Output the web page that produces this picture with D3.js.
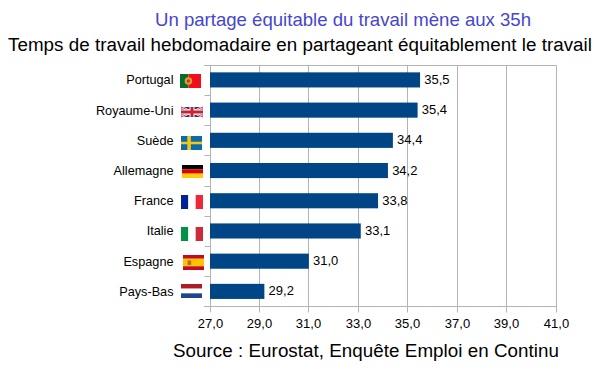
<!DOCTYPE html>
<html>
<head>
<meta charset="utf-8">
<script src="https://cdn.jsdelivr.net/npm/d3@7"></script>
<style>
  body { margin: 0; background: #fff; }
  text { font-family: "Liberation Sans", Arial, sans-serif; }
</style>
</head>
<body>
<svg id="chart" width="608" height="381"></svg>
<script>
let countries = ['Portugal', 'Royaume-Uni', 'Suède', 'Allemagne', 'France', 'Italie', 'Espagne', 'Pays-Bas'];
let hours = [35.5, 35.4, 34.4, 34.2, 33.8, 33.1, 31.0, 29.2];
let tickValues = [27, 29, 31, 33, 35, 37, 39, 41];

let titleText = 'Un partage équitable du travail mène aux 35h';
let subtitleText = 'Temps de travail hebdomadaire en partageant équitablement le travail';
let sourceText = 'Source : Eurostat, Enquête Emploi en Continu';

let svg = d3.select('#chart');
let margin = { left: 210, top: 65.5 };
let chartWidth = 346;
let chartHeight = 241;
let frFormat = function(d) { return d.toFixed(1).replace('.', ','); };

let chartGroup = svg.append('g')
  .attr('transform', 'translate(' + margin.left + ',' + margin.top + ')');

let xScale = d3.scaleLinear().domain([27, 41]).range([0, chartWidth]);
let yScale = d3.scaleBand().domain(countries).range([-0.7, chartHeight]).paddingInner(0.5).paddingOuter(0.25);

// keeps the 1px lines on whole pixels
function crispX(d) {
  return Math.floor(xScale(d)) + 0.5;
}

// horizontal line at the top of the plot
chartGroup.append('line')
  .attr('x1', -6).attr('x2', chartWidth + 0.5)
  .attr('y1', 0).attr('y2', 0)
  .attr('stroke', '#b3b3b3');

chartGroup.selectAll('.grid').data(tickValues.slice(1)).enter().append('line')
  .attr('class', 'grid')
  .attr('x1', crispX)
  .attr('x2', crispX)
  .attr('y1', 0)
  .attr('y2', chartHeight)
  .attr('stroke', '#b3b3b3');

let xAxis = d3.axisBottom(xScale).tickValues(tickValues).tickFormat(frFormat).tickSize(6).tickPadding(6);
let xAxisGroup = chartGroup.append('g')
  .attr('class', 'axis axis--x')
  .attr('transform', 'translate(0,' + chartHeight + ')')
  .call(xAxis);
xAxisGroup.selectAll('.tick').attr('transform', function(d) {
  return 'translate(' + crispX(d) + ',0)';
});

// ticks sit between the categories, so labels are placed apart from them
let yTicks = d3.range(countries.length + 1).map(function(i) { return Math.round(i * chartHeight / countries.length); });
let yAxis = d3.axisLeft(d3.scaleIdentity()).tickValues(yTicks).tickSize(6).tickFormat('').offset(0);
let yAxisGroup = chartGroup.append('g')
  .attr('class', 'axis axis--y')
  .attr('transform', 'translate(0.5,0)')
  .call(yAxis);

chartGroup.selectAll('.axis path, .axis line').attr('stroke', '#b3b3b3');
xAxisGroup.select('.domain').attr('d', 'M-6,0H' + (chartWidth + 0.5));
yAxisGroup.select('.domain').attr('d', 'M0,0V' + chartHeight);
xAxisGroup.selectAll('text')
  .attr('fill', '#000')
  .attr('font-size', 13);

chartGroup.selectAll('.bar').data(hours).enter().append('rect')
  .attr('class', 'bar')
  .attr('x', 0)
  .attr('y', function(d, i) { return yScale(countries[i]); })
  .attr('width', function(d) { return xScale(d); })
  .attr('height', yScale.bandwidth())
  .attr('fill', '#004586');

chartGroup.selectAll('.value').data(hours).enter().append('text')
  .attr('class', 'value')
  .attr('x', function(d) { return xScale(d) + 4.2; })
  .attr('y', function(d, i) { return yScale(countries[i]) + yScale.bandwidth() / 2 - 0.5; })
  .attr('dy', '0.35em')
  .attr('font-size', 13)
  .attr('fill', '#000')
  .text(frFormat);

chartGroup.selectAll('.country').data(countries).enter().append('text')
  .attr('class', 'country')
  .attr('x', -36.5)
  .attr('y', function(d) { return yScale(d) + yScale.bandwidth() / 2; })
  .attr('dy', '0.35em')
  .attr('text-anchor', 'end')
  .attr('font-size', 12.7)
  .attr('fill', '#000')
  .text(function(d) { return d; });

// flags, stripes given as fractions of the flag box
function stripes(g, w, h, colors, vertical, weights) {
  let total = d3.sum(weights);
  let pos = 0;
  colors.forEach(function(color, i) {
    let size = weights[i] / total;
    g.append('rect')
      .attr('x', vertical ? pos * w : 0)
      .attr('y', vertical ? 0 : pos * h)
      .attr('width', vertical ? size * w : w)
      .attr('height', vertical ? h : size * h)
      .attr('fill', color);
    pos += size;
  });
}

let flagDrawers = {
  'Portugal': function(g, w, h) {
    stripes(g, w, h, ['#0a6a2a', '#f0101c'], true, [2, 3]);
    g.append('circle').attr('cx', w * 0.4).attr('cy', h / 2).attr('r', h * 0.27).attr('fill', '#d8a030');
    g.append('circle').attr('cx', w * 0.4).attr('cy', h / 2).attr('r', h * 0.12).attr('fill', '#d03030');
  },
  'Royaume-Uni': function(g, w, h) {
    g.append('rect').attr('width', w).attr('height', h).attr('fill', '#28307a');
    [[0, 0, w, h], [0, h, w, 0]].forEach(function(c) {
      g.append('line').attr('x1', c[0]).attr('y1', c[1]).attr('x2', c[2]).attr('y2', c[3]).attr('stroke', '#fff').attr('stroke-width', 2.4);
      g.append('line').attr('x1', c[0]).attr('y1', c[1]).attr('x2', c[2]).attr('y2', c[3]).attr('stroke', '#c8202f').attr('stroke-width', 0.9);
    });
    g.append('rect').attr('x', w / 2 - 2.5).attr('width', 5).attr('height', h).attr('fill', '#fff');
    g.append('rect').attr('y', h / 2 - 2.5).attr('width', w).attr('height', 5).attr('fill', '#fff');
    g.append('rect').attr('x', w / 2 - 1.5).attr('width', 3).attr('height', h).attr('fill', '#c8202f');
    g.append('rect').attr('y', h / 2 - 1.5).attr('width', w).attr('height', 3).attr('fill', '#c8202f');
  },
  'Suède': function(g, w, h) {
    g.append('rect').attr('width', w).attr('height', h).attr('fill', '#0a6cab');
    g.append('rect').attr('x', w * 0.3).attr('width', w * 0.17).attr('height', h).attr('fill', '#f5c518');
    g.append('rect').attr('y', h * 0.41).attr('width', w).attr('height', h * 0.18).attr('fill', '#f5c518');
  },
  'Allemagne': function(g, w, h) { stripes(g, w, h, ['#000', '#dd0000', '#ffce00'], false, [1, 1, 1]); },
  'France': function(g, w, h) { stripes(g, w, h, ['#002395', '#fff', '#ed2939'], true, [1, 1, 1]); },
  'Italie': function(g, w, h) { stripes(g, w, h, ['#009246', '#fff', '#ce2b37'], true, [1, 1, 1]); },
  'Espagne': function(g, w, h) {
    stripes(g, w, h, ['#c60b1e', '#ffc400', '#c60b1e'], false, [1, 2, 1]);
    g.append('rect').attr('x', w * 0.22).attr('y', h * 0.36).attr('width', w * 0.17).attr('height', h * 0.3).attr('fill', '#b06a30');
  },
  'Pays-Bas': function(g, w, h) { stripes(g, w, h, ['#ae1c28', '#fff', '#21468b'], false, [1, 1, 1]); }
};

let flagBoxes = {
  'Portugal': [180, 74, 21, 14],
  'Royaume-Uni': [181, 107, 22, 10],
  'Suède': [181, 136, 21, 14],
  'Allemagne': [182, 165, 21, 13],
  'France': [181, 195, 22, 14],
  'Italie': [181, 227, 22, 14],
  'Espagne': [183, 255, 21, 15],
  'Pays-Bas': [181, 284, 21, 14]
};

countries.forEach(function(name) {
  let box = flagBoxes[name];
  let g = svg.append('g')
    .attr('class', 'flag')
    .attr('transform', 'translate(' + box[0] + ',' + box[1] + ')');
  flagDrawers[name](g, box[2], box[3]);
});

// hinted text in the reference runs a bit wider than here, so lengths are set
svg.append('text')
  .attr('x', 155).attr('y', 26)
  .attr('font-size', 18.6)
  .attr('textLength', 376)
  .attr('fill', '#4646cc')
  .text(titleText);

svg.append('text')
  .attr('x', 8).attr('y', 51)
  .attr('font-size', 18.8)
  .attr('textLength', 584)
  .attr('fill', '#000')
  .text(subtitleText);

svg.append('text')
  .attr('x', 173).attr('y', 357)
  .attr('font-size', 18.8)
  .attr('textLength', 386)
  .attr('fill', '#000')
  .text(sourceText);
</script>
</body>
</html>
